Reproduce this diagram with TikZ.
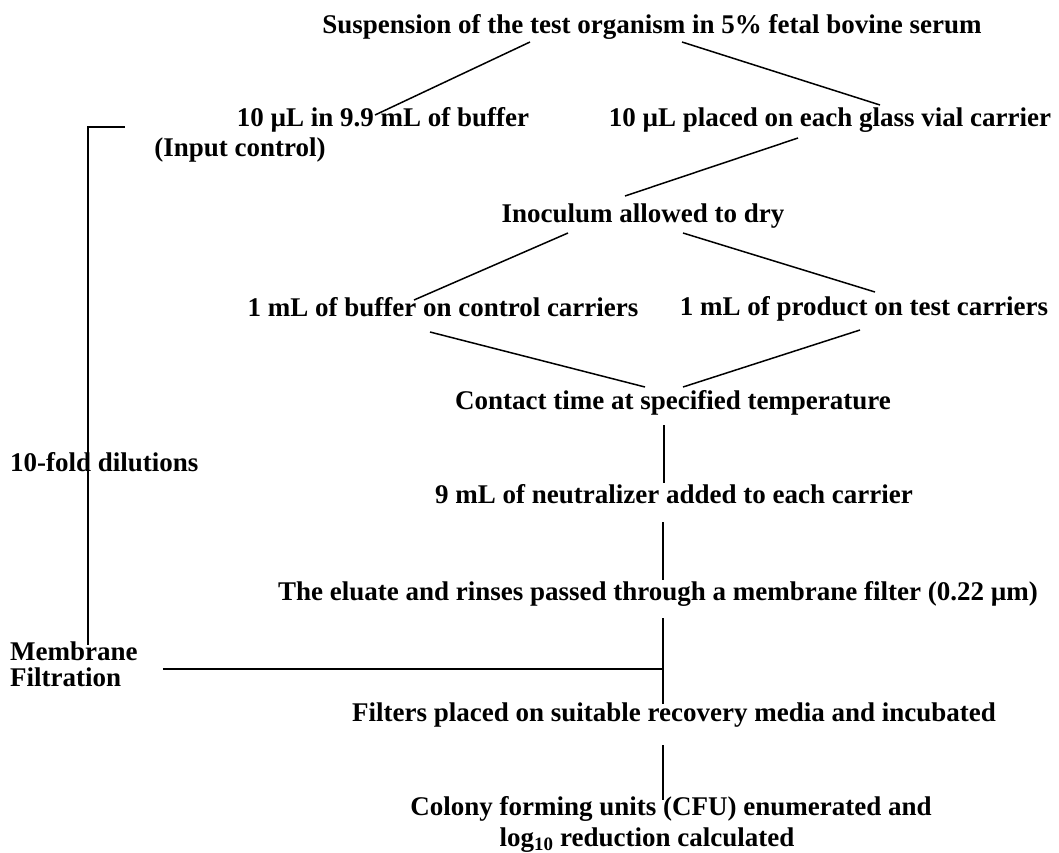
\documentclass[tikz,border=0pt]{standalone}
\usepackage{fontspec}
\setmainfont{Liberation Serif}
\usetikzlibrary{positioning}

\begin{document}
\begin{tikzpicture}[x=1pt, y=-1pt,
    stage/.style={font=\bfseries\fontsize{27}{30}\selectfont, inner sep=0pt, anchor=base},
    side/.style={stage, anchor=base west},
    link/.style={line width=1.5pt}]
    \useasboundingbox (0,0) rectangle (1059,852);

    \node[stage] (susp) at (652,33) {Suspension of the test organism in 5\% fetal bovine serum};
    \node[stage] (buf) at (383,126) {10 µL in 9.9 mL of buffer};
    \node[stage] (inctrl) at (240,156) {(Input control)};
    \node[stage] (vial) at (830,126) {10 µL placed on each glass vial carrier};
    \node[stage] (dry) at (643,222) {Inoculum allowed to dry};
    \node[stage] (ctrl) at (443,316) {1 mL of buffer on control carriers};
    \node[stage] (prod) at (864,315) {1 mL of product on test carriers};
    \node[stage] (contact) at (673,409) {Contact time at specified temperature};
    \node[stage] (neut) at (674,503) {9 mL of neutralizer added to each carrier};
    \node[stage] (eluate) at (658,600) {The eluate and rinses passed through a membrane filter (0.22 µm)};
    \node[stage] (filt) at (674,721) {Filters placed on suitable recovery media and incubated};
    \node[stage] (cfu) at (671,815) {Colony forming units (CFU) enumerated and};
    \node[stage] (cfulog) at (647,846) {log\textsubscript{10} reduction calculated};

    \node[side] (dil) at (10,471) {10-fold dilutions};
    \node[side] (memb) at (10,660) {Membrane};
    \node[side] (filtr) at (10,686) {Filtration};
    \coordinate (join) at (663,669);

    % branches
    \draw[link] ([shift={(-122,9)}]susp.base) -- ([shift={(-8,-11)}]buf.base);
    \draw[link] ([shift={(30,9)}]susp.base) -- ([shift={(50,-21)}]vial.base);
    \draw[link] ([shift={(-32,12)}]vial.base) -- ([shift={(-18,-26)}]dry.base);
    \draw[link] ([shift={(-75,11)}]dry.base) -- ([shift={(-29,-16)}]ctrl.base);
    \draw[link] ([shift={(40,11)}]dry.base) -- ([shift={(11,-23)}]prod.base);
    \draw[link] ([shift={(-13,16)}]ctrl.base) -- ([shift={(-28,-22)}]contact.base);
    \draw[link] ([shift={(-4,15)}]prod.base) -- ([shift={(10,-22)}]contact.base);

    % straight chain
    \draw[link] ([shift={(-9,16)}]contact.base) -- ([shift={(-10,-20)}]neut.base);
    \draw[link] ([shift={(-11,19)}]neut.base) -- ([shift={(5,-20)}]eluate.base);
    \draw[link] ([shift={(5,18)}]eluate.base) -- ([shift={(-11,-17)}]filt.base);
    \draw[link] ([shift={(-11,24)}]filt.base) -- ([shift={(-8,-15)}]cfu.base);

    % left bracket
    \draw[link] ([shift={(-112,1)}]buf.base west) -| ([shift={(78,4)}]memb.north west);
    \draw[link] ([shift={(25,9)}]memb.base east) -- (join);
\end{tikzpicture}
\end{document}
